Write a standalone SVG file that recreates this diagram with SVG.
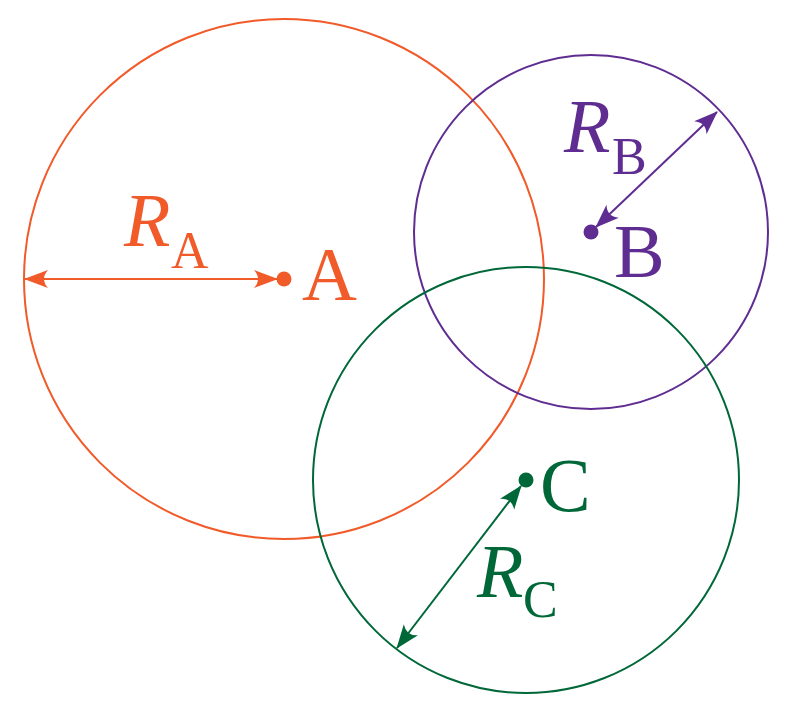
<svg xmlns="http://www.w3.org/2000/svg" width="788" height="711" viewBox="0 0 788 711">
<style>
.circ{fill:none;stroke-width:2}
.arr{fill:none;stroke-width:2}
.lbl{font-family:"Liberation Serif","DejaVu Serif",serif;font-size:76px}
.r{font-family:"Liberation Serif","DejaVu Serif",serif;font-style:italic;font-size:76px}
.sub{font-family:"Liberation Serif","DejaVu Serif",serif;font-size:52px}
</style>
<defs>
<marker id="mA" markerUnits="userSpaceOnUse" markerWidth="26" markerHeight="20" refX="23" refY="9" orient="auto-start-reverse"><path d="M0,0 L24,9 L0,18 Q8,9 0,0 z" fill="#F15A29"/></marker>
<marker id="mB" markerUnits="userSpaceOnUse" markerWidth="26" markerHeight="20" refX="23" refY="9" orient="auto-start-reverse"><path d="M0,0 L24,9 L0,18 Q8,9 0,0 z" fill="#5F2D91"/></marker>
<marker id="mC" markerUnits="userSpaceOnUse" markerWidth="26" markerHeight="20" refX="23" refY="9" orient="auto-start-reverse"><path d="M0,0 L24,9 L0,18 Q8,9 0,0 z" fill="#006838"/></marker>
</defs>
<g id="nodeA">
<circle class="circ" cx="284" cy="279" r="260" stroke="#F15A29"/>
<circle cx="284" cy="279" r="7.5" fill="#F15A29"/>
<text class="lbl" x="302" y="300" fill="#F15A29">A</text>
<text class="r" x="124" y="246" fill="#F15A29">R</text>
<text class="sub" x="171" y="268" fill="#F15A29">A</text>
</g>
<g id="nodeB">
<circle class="circ" cx="591" cy="232" r="177" stroke="#5F2D91"/>
<circle cx="591" cy="232" r="7.5" fill="#5F2D91"/>
<text class="lbl" x="614" y="277" fill="#5F2D91">B</text>
<text class="r" x="564" y="152" fill="#5F2D91">R</text>
<text class="sub" x="612" y="174" fill="#5F2D91">B</text>
</g>
<g id="nodeC">
<circle class="circ" cx="526" cy="480" r="213" stroke="#006838"/>
<circle cx="526" cy="480" r="7.5" fill="#006838"/>
<text class="lbl" x="540" y="511" fill="#006838">C</text>
<text class="r" x="477" y="597" fill="#006838">R</text>
<text class="sub" x="523" y="617" fill="#006838">C</text>
</g>
<g id="connectors">
<line class="arr" x1="25" y1="279" x2="277" y2="279" stroke="#F15A29" marker-start="url(#mA)" marker-end="url(#mA)"/>
<line class="arr" x1="596" y1="227" x2="717" y2="112" stroke="#5F2D91" marker-start="url(#mB)" marker-end="url(#mB)"/>
<line class="arr" x1="397" y1="648" x2="521" y2="486" stroke="#006838" marker-start="url(#mC)" marker-end="url(#mC)"/>
</g>
</svg>
